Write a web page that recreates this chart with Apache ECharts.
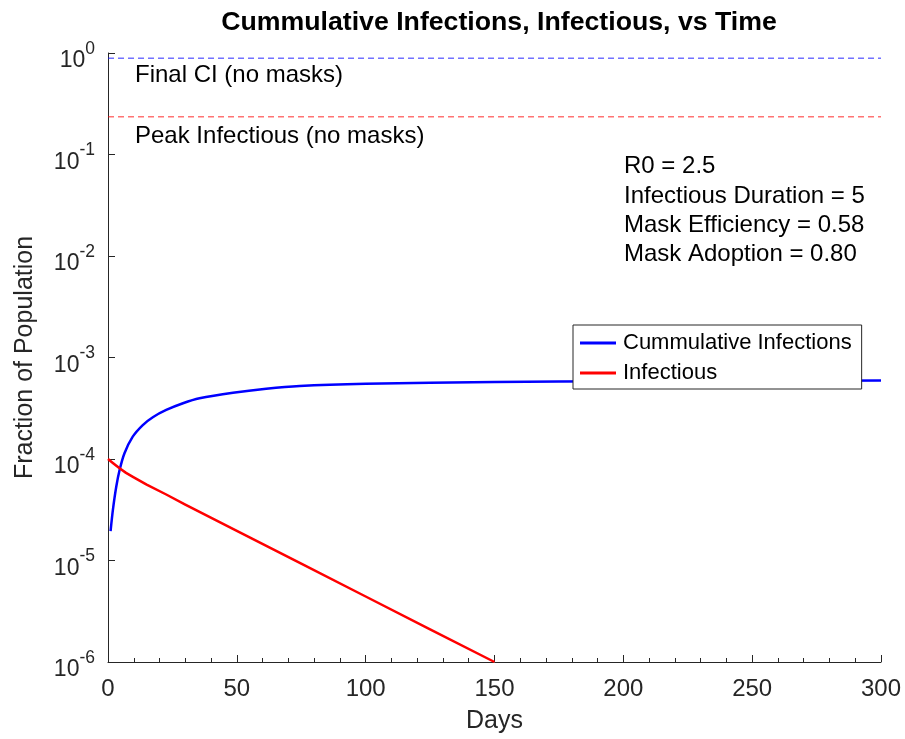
<!DOCTYPE html>
<html>
<head>
<meta charset="utf-8">
<script src="https://cdn.jsdelivr.net/npm/echarts@6/dist/echarts.min.js"></script>
<style>html,body{margin:0;padding:0;background:#fff}#c{width:905px;height:739px}</style>
</head>
<body>
<div id="c"></div>
<script>
// ---- data ----
var cumDays = [1, 1.9, 3.2, 4.5, 6.4, 9.6, 13.5, 17.4, 22.6, 29.1, 35.5, 48.5, 61.4, 74.4, 100, 150, 200, 250, 300];
var cumValues = [1.95e-5, 3.15e-5, 5.33e-5, 7.8e-5, 1.14e-4, 1.66e-4, 2.16e-4, 2.58e-4, 3.04e-4, 3.54e-4, 3.96e-4, 4.5e-4, 4.93e-4, 5.24e-4, 5.5e-4, 5.75e-4, 5.85e-4, 5.9e-4, 5.92e-4];
var infDays = [0, 2, 4.5, 7, 10, 15, 22.6, 30, 50, 75, 100, 125, 150];
var infValues = [1.0e-4, 9.08e-5, 8.09e-5, 7.3e-5, 6.6e-5, 5.6e-5, 4.47e-5, 3.56e-5, 1.96e-5, 9.3e-6, 4.42e-6, 2.1e-6, 1.0e-6];
var finalCI = 0.89;
var peakInfectious = 0.236;
var xRange = [0, 300];
var yRange = [1e-6, 1];
var seriesNames = ['Cummulative Infections', 'Infectious'];
var paramLines = ['R0 = 2.5', 'Infectious Duration = 5', 'Mask Efficiency = 0.58', 'Mask Adoption = 0.80'];

function pairs(xs, ys) { return xs.map(function (x, i) { return [x, ys[i]]; }); }

var chart = echarts.init(document.getElementById('c'), null, { renderer: 'canvas' });
var FONT = 'Liberation Sans, Arial, Helvetica, sans-serif';
var AX = '#262626';

var option = {
  backgroundColor: '#fff',
  animation: false,
  textStyle: { fontFamily: FONT },
  title: {
    text: 'Cummulative Infections, Infectious, vs Time',
    left: 494, top: 4, textAlign: 'center',
    textStyle: { fontFamily: FONT, fontSize: 26.7, fontWeight: 'bold', color: '#000' }
  },
  grid: { left: 108, right: 24, top: 53, bottom: 77, containLabel: false },
  legend: {
    data: seriesNames,
    orient: 'vertical',
    left: 573, top: 325,
    backgroundColor: '#fff',
    borderColor: AX, borderWidth: 1,
    padding: [6, 10, 4, 7],
    itemGap: 6,
    itemWidth: 36, itemHeight: 3,
    icon: 'rect',
    textStyle: { fontFamily: FONT, fontSize: 22, color: '#000', lineHeight: 24, padding: [0, 0, 0, 2] }
  },
  xAxis: {
    type: 'value', min: xRange[0], max: xRange[1], interval: 50,
    name: 'Days', nameLocation: 'middle', nameGap: 47,
    nameTextStyle: { fontFamily: FONT, fontSize: 25, color: AX },
    axisLine: { show: true, lineStyle: { color: AX, width: 1 } },
    axisTick: { show: true, inside: true, length: 7, lineStyle: { color: AX } },
    minorTick: { show: true, splitNumber: 5, length: 4, lineStyle: { color: AX } },
    axisLabel: { fontFamily: FONT, fontSize: 24, color: AX, margin: 15 },
    splitLine: { show: false }
  },
  yAxis: {
    type: 'log', logBase: 10, min: yRange[0], max: yRange[1], splitNumber: 6,
    name: 'Fraction of Population', nameLocation: 'middle', nameGap: 70,
    nameTextStyle: { fontFamily: FONT, fontSize: 25, color: AX },
    axisLine: { show: true, lineStyle: { color: AX, width: 1 } },
    axisTick: { show: true, inside: true, length: 7, lineStyle: { color: AX } },
    axisLabel: {
      margin: 13, color: AX,
      formatter: function (v) { var e = Math.round(Math.log10(v)); return '{b|10}{s|' + e + '}'; },
      rich: {
        b: { fontFamily: FONT, fontSize: 23, color: AX, padding: [16, 0, 0, 0] },
        s: { fontFamily: FONT, fontSize: 17.5, color: AX, padding: [0, 0, 8, 0] }
      }
    },
    splitLine: { show: false }
  },
  series: [
    {
      name: 'Final CI', type: 'line', showSymbol: false, silent: true,
      data: pairs(xRange, [finalCI, finalCI]),
      lineStyle: { color: 'rgba(20,20,255,0.6)', width: 1.5, type: [6, 4] }
    },
    {
      name: 'Peak Infectious', type: 'line', showSymbol: false, silent: true,
      data: pairs(xRange, [peakInfectious, peakInfectious]),
      lineStyle: { color: 'rgba(255,0,0,0.55)', width: 1.5, type: [6, 4] }
    },
    {
      name: seriesNames[0], type: 'line', showSymbol: false, smooth: 0.25,
      data: pairs(cumDays, cumValues), color: '#0000ff',
      lineStyle: { color: '#0000ff', width: 2.5, join: 'round' }
    },
    {
      name: seriesNames[1], type: 'line', showSymbol: false, smooth: false,
      data: pairs(infDays, infValues), color: '#ff0000',
      lineStyle: { color: '#ff0000', width: 2.5, join: 'round' }
    }
  ],
  graphic: [
    { type: 'text', left: 135, top: 63, style: { text: 'Final CI (no masks)', font: '24px ' + FONT, fill: '#000' } },
    { type: 'text', left: 135, top: 124, style: { text: 'Peak Infectious (no masks)', font: '24px ' + FONT, fill: '#000' } },
    { type: 'text', left: 624, top: 152, style: { text: paramLines.join('\n'), font: '24px ' + FONT, fill: '#000', lineHeight: 29.3 } }
  ]
};
chart.setOption(option);
</script>
</body>
</html>
